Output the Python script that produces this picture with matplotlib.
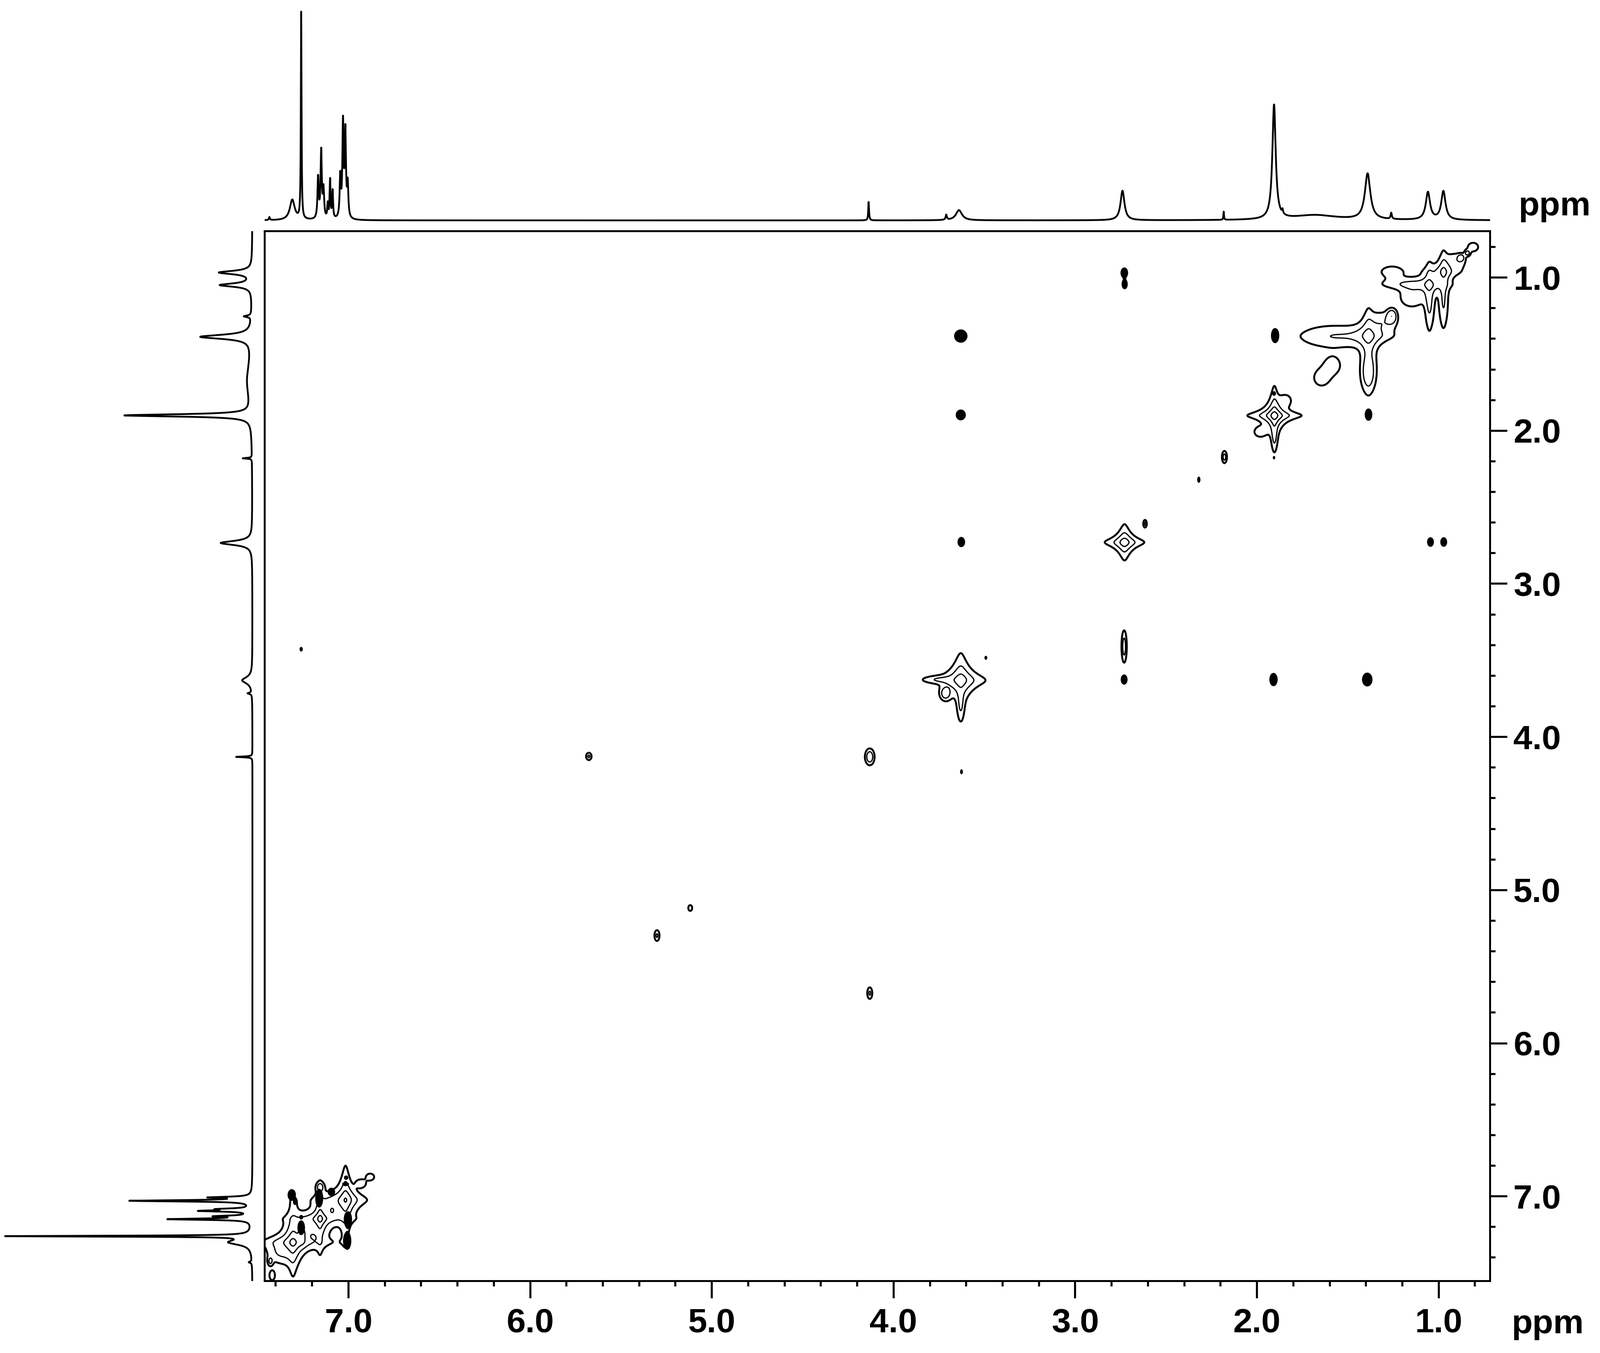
import numpy as np
import matplotlib
matplotlib.use("Agg")
import matplotlib.pyplot as plt
from matplotlib.ticker import MultipleLocator, FormatStrFormatter

plt.rcParams['font.family'] = ['Liberation Sans', 'DejaVu Sans']

# ---- axis ranges (ppm) ----
X_RANGE = (7.462, 0.717)
Y_RANGE = (7.553, 0.697)

# ---- 1D spectrum along the top (F2): position ppm, height, half width ppm ----
top_ppm = [7.435, 7.309, 7.260, 7.167, 7.150, 7.137, 7.114, 7.101, 7.087,
           7.045, 7.030, 7.017, 7.004, 4.137, 3.710, 3.640, 2.740, 2.183,
           1.906, 1.859, 1.680, 1.391, 1.261, 1.059, 0.974]
top_height = [3, 20, 204, 40, 66, 28, 14, 38, 27,
              40, 92, 83, 32, 18, 5, 10, 29, 8,
              112, 4, 5, 45, 6, 27, 28]
top_hwhm = [0.003, 0.016, 0.0022, 0.004, 0.004, 0.004, 0.003, 0.003, 0.003,
            0.004, 0.004, 0.004, 0.004, 0.0025, 0.004, 0.02, 0.013, 0.002,
            0.011, 0.003, 0.15, 0.018, 0.004, 0.014, 0.014]

# ---- 1D spectrum along the left (F1) ----
left_ppm = [0.967, 1.049, 1.253, 1.387, 1.673, 1.900, 2.180, 2.733, 3.630,
            3.715, 4.130, 7.007, 7.029, 7.083, 7.095, 7.130, 7.149, 7.260,
            7.300, 7.430]
left_height = [32, 31, 7, 50, 5, 124, 9, 31, 10,
               4, 16, 38, 118, 28, 47, 32, 80, 238,
               22, 3]
left_hwhm = [0.013, 0.013, 0.006, 0.016, 0.15, 0.009, 0.003, 0.016, 0.025,
             0.005, 0.003, 0.005, 0.005, 0.005, 0.005, 0.005, 0.005, 0.0035,
             0.02, 0.005]

# ---- 2D: star shaped diagonal peaks (F2, F1, amplitude, width F2, width F1) ----
star_f2 = [3.630, 2.729, 1.904, 1.386, 1.052, 0.973, 7.305, 7.156, 7.016]
star_f1 = [3.630, 2.729, 1.901, 1.381, 1.048, 0.963, 7.300, 7.146, 7.023]
star_amp = [6, 6, 12, 6, 5, 5, 10, 10, 8]
star_w2 = [0.0313, 0.025, 0.0188, 0.0258, 0.0186, 0.0186, 0.023, 0.0148, 0.020]
star_w1 = [0.0408, 0.0272, 0.0243, 0.038, 0.028, 0.033, 0.032, 0.0243, 0.0386]

# ---- 2D: rounded open peaks (incl. the arms hanging off the big diagonal peaks) ----
round_f2 = [3.715, 1.600, 1.387, 1.258, 1.300, 1.150, 1.050, 1.180, 0.973,
            0.877, 0.842, 0.810, 0.900, 1.258, 1.645, 1.585, 2.179, 2.616,
            2.731, 4.131, 5.677, 5.302, 4.131, 5.119, 7.255, 7.090, 6.930,
            6.880, 7.430, 7.420, 7.156, 7.380, 7.220, 7.080, 3.630, 3.750,
            1.904, 1.985, 1.840]
round_f1 = [3.717, 1.385, 1.620, 1.251, 1.290, 1.130, 1.200, 1.040, 1.180,
            0.870, 0.840, 0.800, 0.890, 0.960, 1.655, 1.575, 2.172, 2.607,
            3.410, 4.130, 4.127, 5.297, 5.673, 5.117, 7.250, 7.093, 6.915,
            6.873, 7.425, 7.517, 6.939, 7.370, 7.200, 7.070, 3.790, 3.625,
            2.030, 2.010, 1.800]
round_amp = [2.5, 1.5, 2.5, 3.0, 1.4, 1.6, 1.4, 1.4, 1.4,
             2.2, 2.2, 1.4, 1.4, 1.3, 1.5, 1.5, 2.5, 2.2,
             2.5, 3.0, 2.2, 2.2, 2.2, 2.0, 3.0, 2.5, 1.5,
             1.5, 1.8, 1.8, 2.0, 1.4, 1.3, 1.3, 1.3, 1.2,
             1.3, 1.2, 1.2]
round_w2 = [0.020, 0.133, 0.029, 0.018, 0.05, 0.05, 0.018, 0.10, 0.018,
            0.012, 0.010, 0.03, 0.04, 0.05, 0.04, 0.04, 0.010, 0.007,
            0.010, 0.018, 0.012, 0.011, 0.011, 0.009, 0.015, 0.008, 0.02,
            0.02, 0.010, 0.012, 0.014, 0.05, 0.06, 0.05, 0.012, 0.06,
            0.010, 0.030, 0.025]
round_w1 = [0.030, 0.060, 0.089, 0.030, 0.05, 0.05, 0.10, 0.028, 0.11,
            0.015, 0.013, 0.03, 0.04, 0.032, 0.05, 0.05, 0.029, 0.018,
            0.072, 0.037, 0.019, 0.028, 0.030, 0.016, 0.039, 0.014, 0.02,
            0.02, 0.020, 0.025, 0.020, 0.05, 0.05, 0.05, 0.07, 0.015,
            0.06, 0.030, 0.030]

# ---- 2D: solid (dense) cross peaks, half sizes in ppm ----
solid_f2 = [2.730, 2.728, 3.630, 1.900, 3.630, 1.386, 3.627, 1.045, 0.972,
            7.260, 3.492, 2.731, 1.909, 1.393, 3.626, 2.320, 1.906, 1.906,
            7.312, 7.294, 7.161, 7.094, 7.013, 7.016, 7.003, 7.007, 7.260, 7.260]
solid_f1 = [0.969, 1.044, 1.382, 1.379, 1.897, 1.895, 2.727, 2.727, 2.727,
            3.427, 3.483, 3.625, 3.625, 3.625, 4.227, 2.320, 1.757, 2.176,
            6.991, 7.040, 7.012, 6.971, 6.878, 6.920, 7.151, 7.291, 7.205, 7.135]
solid_r2 = [0.018, 0.014, 0.034, 0.020, 0.025, 0.018, 0.018, 0.016, 0.016,
            0.006, 0.005, 0.016, 0.020, 0.026, 0.005, 0.006, 0.008, 0.004,
            0.020, 0.007, 0.019, 0.018, 0.009, 0.016, 0.020, 0.020, 0.018, 0.007]
solid_r1 = [0.032, 0.029, 0.040, 0.046, 0.032, 0.037, 0.030, 0.028, 0.028,
            0.012, 0.010, 0.030, 0.040, 0.042, 0.013, 0.017, 0.012, 0.008,
            0.035, 0.013, 0.058, 0.024, 0.011, 0.010, 0.051, 0.055, 0.045, 0.010]

contour_levels = [1, 2, 4, 8, 16, 32]
STAR_POWER = 0.6


def lorentz_sum(axis, pos, height, hwhm):
    out = np.zeros_like(axis)
    for p, h, w in zip(pos, height, hwhm):
        out += h / (1 + ((axis - p) / w) ** 2)
    return out


W, H = 3246, 2745
fig = plt.figure(figsize=(W / 100, H / 100), dpi=100)

main_left, main_right = 536.6, 3023
main_top, main_bot = 469, 2599
ax = fig.add_axes([main_left / W, (H - main_bot) / H,
                   (main_right - main_left) / W, (main_bot - main_top) / H])

# 2D map
gx = np.linspace(X_RANGE[1], X_RANGE[0], 2500)
gy = np.linspace(Y_RANGE[1], Y_RANGE[0], 2130)
Z = np.zeros((gy.size, gx.size))
for x0, y0, a, w2, w1 in zip(star_f2, star_f1, star_amp, star_w2, star_w1):
    fx = (1 + ((gx - x0) / w2) ** 2) ** -STAR_POWER
    fy = (1 + ((gy - y0) / w1) ** 2) ** -STAR_POWER
    Z += a * np.outer(fy, fx)
for x0, y0, a, w2, w1 in zip(round_f2, round_f1, round_amp, round_w2, round_w1):
    fx = np.exp(-0.5 * ((gx - x0) / w2) ** 2)
    fy = np.exp(-0.5 * ((gy - y0) / w1) ** 2)
    Z += a * np.outer(fy, fx)

S = np.zeros_like(Z)
for x0, y0, r2, r1 in zip(solid_f2, solid_f1, solid_r2, solid_r1):
    fx = np.exp(-((gx - x0) / r2) ** 2)
    fy = np.exp(-((gy - y0) / r1) ** 2)
    S += np.outer(fy, fx)

ax.contour(gx, gy, Z, levels=contour_levels, colors='black',
           linewidths=[2.8, 1.8, 1.8, 1.8, 1.8, 1.8])
ax.contourf(gx, gy, S, levels=[np.exp(-1), S.max() + 1], colors='black')
ax.contour(gx, gy, S, levels=[np.exp(-1)], colors='black', linewidths=1.5)

ax.set_xlim(*X_RANGE)
ax.set_ylim(*Y_RANGE)
ax.yaxis.tick_right()
ax.xaxis.tick_bottom()
for a_ in (ax.xaxis, ax.yaxis):
    a_.set_major_locator(MultipleLocator(1))
    a_.set_minor_locator(MultipleLocator(0.2))
    a_.set_major_formatter(FormatStrFormatter('%.1f'))
ax.tick_params(which='major', direction='out', length=25, width=3,
               labelsize=50)
ax.tick_params(which='minor', direction='out', length=8, width=3)
ax.tick_params(axis='x', which='major', pad=14)
ax.tick_params(axis='y', which='major', pad=9)
for lab in ax.get_xticklabels() + ax.get_yticklabels():
    lab.set_fontweight('bold')
for sp in ax.spines.values():
    sp.set_linewidth(2.8)

# top 1D spectrum
ax_top = fig.add_axes([main_left / W, (H - 460) / H,
                       (main_right - main_left) / W, 460 / H])
px = np.linspace(X_RANGE[1], X_RANGE[0], 12000)
ax_top.plot(px, lorentz_sum(px, top_ppm, top_height, top_hwhm),
            color='black', linewidth=2.6)
ax_top.set_xlim(*X_RANGE)
ax_top.set_ylim(216 - 460 / 2.0702, 216)
ax_top.axis('off')

# left 1D spectrum
ax_left = fig.add_axes([0, (H - main_bot) / H, 530 / W,
                        (main_bot - main_top) / H])
py = np.linspace(Y_RANGE[1], Y_RANGE[0], 12000)
ax_left.plot(lorentz_sum(py, left_ppm, left_height, left_hwhm), py,
             color='black', linewidth=2.6)
ax_left.set_ylim(*Y_RANGE)
ax_left.set_xlim(247.4, 247.4 - 530 / 2.0702)
ax_left.axis('off')

fig.text(3080 / W, 1 - 437 / H, 'ppm', ha='left', va='baseline',
         fontsize=50, fontweight='bold')
fig.text(3066 / W, 1 - 2705 / H, 'ppm', ha='left', va='baseline',
         fontsize=50, fontweight='bold')

fig.savefig('out.png', dpi=100, facecolor='white')
